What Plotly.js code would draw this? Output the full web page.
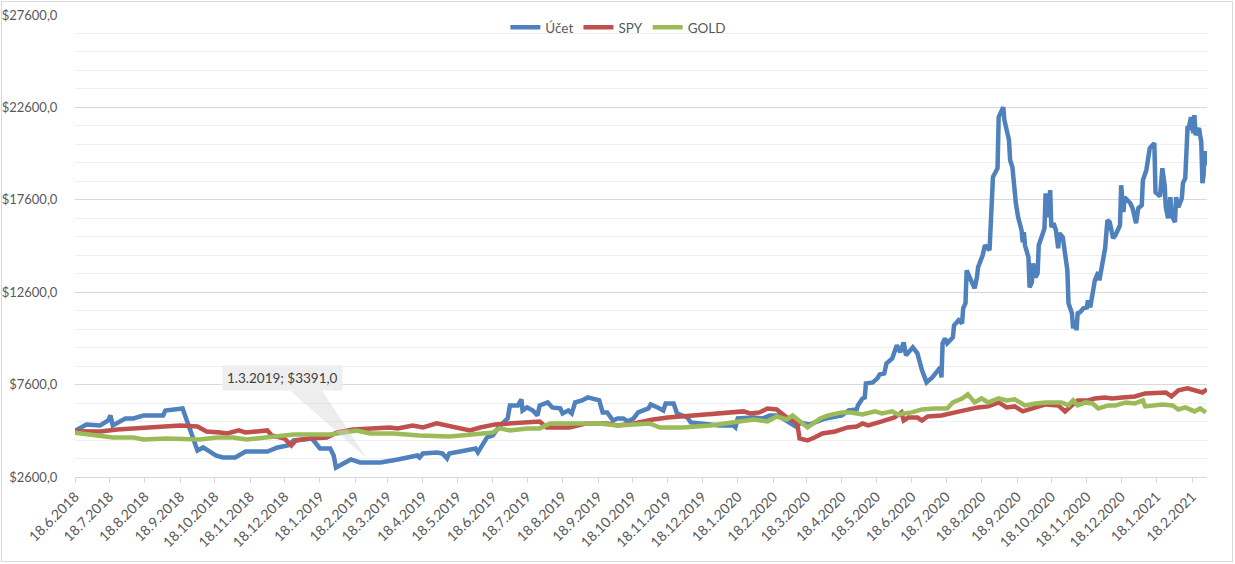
<!DOCTYPE html>
<html><head><meta charset="utf-8">
<script src="https://cdn.plot.ly/plotly-3.0.1.min.js"></script>
<style>
html,body{margin:0;padding:0;background:#fff;}
#chart{width:1235px;height:564px;}
#frame{position:absolute;left:1px;top:1px;width:1230px;height:559px;border:1px solid #d9d9d9;pointer-events:none;}
</style>
</head><body>
<div id="chart"></div><div id="frame"></div>
<script>
const seriesNames = ['Účet', 'SPY', 'GOLD'];
const seriesColors = ['#4F81BD', '#C0504D', '#9BBB59'];

const uctDates = [
'2018-06-18','2018-06-28','2018-07-10','2018-07-17','2018-07-19','2018-07-21','2018-08-01','2018-08-08','2018-08-17','2018-09-03','2018-09-05','2018-09-20',
'2018-10-03','2018-10-08','2018-10-19','2018-10-25','2018-11-05','2018-11-14','2018-12-03','2018-12-12','2018-12-21','2018-12-26',
'2019-01-11','2019-01-18','2019-01-27','2019-01-30','2019-02-01','2019-02-14','2019-02-22','2019-03-01','2019-03-12','2019-03-27',
'2019-04-13','2019-04-15','2019-04-18','2019-04-30','2019-05-05','2019-05-09','2019-05-11','2019-06-03','2019-06-05','2019-06-13','2019-06-18','2019-06-23',
'2019-07-01','2019-07-03','2019-07-10','2019-07-13','2019-07-14','2019-07-18','2019-07-23','2019-07-27','2019-07-29',
'2019-08-05','2019-08-09','2019-08-16','2019-08-18','2019-08-23','2019-08-26','2019-08-29','2019-09-04','2019-09-09','2019-09-19','2019-09-22','2019-09-26',
'2019-10-01','2019-10-05','2019-10-10','2019-10-14','2019-10-19','2019-10-23','2019-11-01','2019-11-03','2019-11-09','2019-11-14','2019-11-16','2019-11-23','2019-11-26',
'2019-12-05','2019-12-08','2019-12-16','2020-01-02','2020-01-14','2020-01-16','2020-01-18','2020-02-01','2020-02-09','2020-02-15','2020-02-22',
'2020-03-04','2020-03-10','2020-03-12','2020-03-21','2020-03-30','2020-04-04','2020-04-18','2020-04-24',
'2020-05-01','2020-05-02','2020-05-06','2020-05-08','2020-05-09','2020-05-15','2020-05-19','2020-05-21','2020-05-25','2020-05-27',
'2020-06-01','2020-06-05','2020-06-08','2020-06-11','2020-06-13','2020-06-19','2020-06-23','2020-06-27',
'2020-07-01','2020-07-06','2020-07-13','2020-07-14','2020-07-15','2020-07-17','2020-07-19','2020-07-24','2020-07-25','2020-07-29',
'2020-08-01','2020-08-02','2020-08-04','2020-08-05','2020-08-10','2020-08-12','2020-08-14','2020-08-15','2020-08-19','2020-08-21','2020-08-25','2020-08-28',
'2020-09-01','2020-09-02','2020-09-06','2020-09-07','2020-09-11','2020-09-12','2020-09-14','2020-09-15','2020-09-16','2020-09-17','2020-09-19','2020-09-22','2020-09-23','2020-09-24','2020-09-25','2020-09-28','2020-09-29',
'2020-10-01','2020-10-02','2020-10-04','2020-10-06','2020-10-07','2020-10-10','2020-10-12','2020-10-13','2020-10-15','2020-10-17','2020-10-18','2020-10-20','2020-10-22','2020-10-24','2020-10-25','2020-10-28','2020-10-30',
'2020-11-01','2020-11-02','2020-11-05','2020-11-06','2020-11-08','2020-11-09','2020-11-10','2020-11-12','2020-11-15','2020-11-18','2020-11-19','2020-11-21','2020-11-23','2020-11-25','2020-11-28','2020-11-29',
'2020-12-01','2020-12-02','2020-12-04','2020-12-06','2020-12-08','2020-12-11','2020-12-13','2020-12-17','2020-12-18','2020-12-20','2020-12-21','2020-12-26','2020-12-28','2020-12-31',
'2021-01-02','2021-01-05','2021-01-06','2021-01-09','2021-01-12','2021-01-16','2021-01-17','2021-01-21','2021-01-23','2021-01-25','2021-01-26','2021-01-28','2021-01-30','2021-01-31',
'2021-02-03','2021-02-04','2021-02-06','2021-02-09','2021-02-10','2021-02-12','2021-02-13','2021-02-14','2021-02-15','2021-02-17','2021-02-19','2021-02-20','2021-02-21','2021-02-24','2021-02-26','2021-02-27','2021-02-28',
'2021-03-01','2021-03-02','2021-03-03'
];
const uctValues = [
5100,5445,5390,5660,5930,5390,5770,5770,5930,5930,6200,6310,
4035,4200,3765,3655,3655,3980,3980,4200,4305,4575,
4685,4145,4145,3765,3115,3550,3385,3391,3385,3550,
3765,3655,3875,3930,3875,3600,3875,4145,3930,4740,4850,5280,
5770,6475,6475,6800,6200,6365,6200,5930,6475,
6635,6365,6310,6040,6200,6040,6635,6745,6905,6745,6095,6095,
5660,5770,5770,5605,5770,6095,6310,6525,6365,6200,6580,6580,6040,
5820,5550,5500,5390,5390,5280,5770,5820,5770,5930,5930,
5500,5280,5550,5445,5660,5770,5930,6200,
6255,6475,6850,6905,7665,7720,7935,8150,8205,8750,
9020,9725,9345,9885,9180,9615,9290,8370,
7720,7990,8530,7990,9830,10100,9830,10155,10805,11080,
10915,11730,12000,13785,13080,12810,13410,13950,14600,15140,14870,18830,
19310,22070,22615,21910,20830,19745,19365,18500,18120,17415,16655,15950,15300,15840,15140,14490,12865,
13135,14165,13405,13625,15140,15680,16060,17955,16655,18120,16115,16330,15950,14980,15790,15570,14710,
13785,12000,11460,10645,11080,10535,11460,11510,11730,11780,12160,11780,12595,13245,13680,13245,
13950,14330,14980,16495,16385,15520,15680,16225,18390,16930,17740,17415,17145,16330,
17145,17305,18660,19205,20395,20665,18010,17795,19310,18390,17200,16600,17740,16765,
16385,17740,17200,17685,18500,18770,20180,21480,21480,22070,21205,22180,21100,21480,20720,18500,18930,
20125,20125,19475
];

const spyDates = [
'2018-06-18','2018-07-10','2018-07-25','2018-08-08','2018-08-29','2018-09-18','2018-10-03','2018-10-11','2018-10-23','2018-10-29','2018-11-08','2018-11-14',
'2018-12-03','2018-12-07','2018-12-18','2018-12-24','2018-12-28','2019-01-09','2019-01-24','2019-02-02','2019-02-16','2019-03-03','2019-03-20','2019-03-27',
'2019-04-09','2019-04-18','2019-04-30','2019-05-29','2019-06-07','2019-06-20','2019-07-06','2019-07-23','2019-07-29','2019-08-04','2019-08-13','2019-08-24',
'2019-09-08','2019-09-26','2019-10-05','2019-10-19','2019-11-05','2019-11-18','2019-12-10','2019-12-22','2020-01-14','2020-01-23','2020-01-29',
'2020-02-06','2020-02-13','2020-02-21','2020-03-01','2020-03-10','2020-03-12','2020-03-19','2020-03-25','2020-04-01','2020-04-12','2020-04-23',
'2020-05-01','2020-05-06','2020-05-11','2020-05-19','2020-05-23','2020-06-03','2020-06-09','2020-06-11','2020-06-15','2020-06-23','2020-06-27',
'2020-07-02','2020-07-14','2020-07-26','2020-08-06','2020-08-15','2020-08-24','2020-09-02','2020-09-09','2020-09-16','2020-09-23',
'2020-10-01','2020-10-13','2020-10-24','2020-10-30','2020-11-05','2020-11-10','2020-11-19','2020-11-25','2020-12-04','2020-12-10','2020-12-19','2020-12-30',
'2021-01-08','2021-01-17','2021-01-26','2021-01-31','2021-02-06','2021-02-14','2021-02-23','2021-02-27','2021-03-03'
];
const spyValues = [
5080,5065,5175,5230,5280,5390,5335,5065,5010,4955,5120,5010,
5120,4850,4685,4305,4575,4685,4740,5010,5175,5230,5280,5230,
5390,5280,5500,5120,5280,5445,5500,5550,5605,5280,5280,5280,
5500,5500,5390,5500,5715,5820,5930,5985,6095,6150,6040,
6095,6310,6255,5820,5500,4685,4575,4740,4955,5065,5280,
5335,5500,5390,5500,5605,5820,6095,5660,5820,5820,5660,
5875,5930,6095,6255,6365,6420,6635,6365,6420,6150,
6310,6525,6475,6150,6475,6745,6745,6850,6905,6850,6905,6960,
7125,7125,7175,6960,7285,7395,7285,7175,7340
];

const goldDates = [
'2018-06-18','2018-07-04','2018-07-21','2018-08-08','2018-08-17','2018-09-06','2018-10-05','2018-10-20','2018-11-03','2018-11-15','2018-12-03','2018-12-21','2018-12-26',
'2019-01-27','2019-02-07','2019-02-19','2019-03-03','2019-03-23','2019-04-15','2019-05-11','2019-05-31','2019-06-18','2019-06-24','2019-07-03','2019-07-18','2019-07-29',
'2019-08-07','2019-08-24','2019-09-19','2019-10-05','2019-10-19','2019-11-02','2019-11-11','2019-12-01','2019-12-25','2020-01-14','2020-02-01','2020-02-13','2020-02-21',
'2020-03-01','2020-03-06','2020-03-19','2020-03-30','2020-04-06','2020-04-18','2020-04-26','2020-05-06','2020-05-17','2020-05-23','2020-06-01','2020-06-06','2020-06-18','2020-06-27',
'2020-07-08','2020-07-19','2020-07-24','2020-08-01','2020-08-06','2020-08-12','2020-08-18','2020-08-24','2020-09-02','2020-09-09','2020-09-16','2020-09-25',
'2020-10-04','2020-10-13','2020-10-27','2020-11-02','2020-11-06','2020-11-10','2020-11-17','2020-11-23','2020-11-28','2020-12-07','2020-12-13','2020-12-22','2020-12-30',
'2021-01-06','2021-01-08','2021-01-23','2021-02-01','2021-02-06','2021-02-12','2021-02-20','2021-02-25','2021-03-02'
];
const goldValues = [
5000,4850,4740,4740,4630,4685,4630,4740,4740,4630,4740,4850,4900,
4900,5010,5120,4955,4955,4850,4795,4900,5010,5230,5120,5230,5230,
5500,5500,5500,5390,5445,5500,5280,5280,5390,5550,5715,5605,5875,
5715,5930,5280,5770,5930,6095,6095,5985,6150,6040,6150,5985,6095,6255,
6310,6310,6635,6850,7070,6635,6850,6635,6850,6745,6800,6475,
6580,6635,6635,6475,6745,6475,6635,6580,6310,6475,6475,6635,6580,
6745,6420,6525,6475,6255,6365,6150,6310,6095
];

const calloutDate = '2019-03-01';
const calloutValue = 3391;
const calloutText = '1.3.2019; $3391,0';

const dates = [uctDates, spyDates, goldDates];
const values = [uctValues, spyValues, goldValues];

const traces = seriesNames.map((name, i) => ({
  type: 'scatter', mode: 'lines', name: name,
  x: dates[i], y: values[i],
  line: {color: seriesColors[i], width: 4.5, shape: 'linear'},
  hoverinfo: 'skip'
}));

const fontFam = 'Lato, "Noto Sans", sans-serif';

const layout = {
  width: 1235, height: 564,
  margin: {l: 75, r: 28, t: 13, b: 87, pad: 0},
  paper_bgcolor: '#ffffff', plot_bgcolor: '#ffffff',
  separators: ', ',
  font: {family: fontFam, color: '#595959', size: 13},
  showlegend: true,
  legend: {
    orientation: 'h', x: 0.48, xanchor: 'center', y: 0.973, yanchor: 'middle',
    font: {family: fontFam, size: 13.5, color: '#595959'},
    bgcolor: 'rgba(0,0,0,0)', itemwidth: 30, tracegroupgap: 0
  },
  xaxis: {
    type: 'date',
    range: ['2018-06-18', '2021-03-03'],
    tick0: '2018-06-18', dtick: 'M1',
    tickformat: '%-d.%-m.%Y',
    tickangle: -45,
    ticks: 'outside', ticklen: 5, tickcolor: '#d9d9d9', tickwidth: 1,
    showline: true, linecolor: '#d9d9d9', linewidth: 1,
    showgrid: false, zeroline: false,
    tickfont: {family: fontFam, size: 14, color: '#595959'},
    fixedrange: true
  },
  yaxis: {
    range: [2600, 27600],
    tick0: 2600, dtick: 5000,
    tickformat: '$.1f',
    showgrid: true, gridcolor: '#d9d9d9', gridwidth: 1,
    minor: {tick0: 2600, dtick: 1000, showgrid: true, gridcolor: '#efefef', gridwidth: 1, ticks: ''},
    zeroline: false, showline: false,
    ticks: 'outside', ticklen: 14, tickcolor: 'rgba(0,0,0,0)',
    tickfont: {family: fontFam, size: 13, color: '#595959'},
    fixedrange: true
  },
  shapes: [{
    type: 'path', xref: 'x', yref: 'y',
    xsizemode: 'pixel', ysizemode: 'pixel',
    xanchor: calloutDate, yanchor: calloutValue,
    path: 'M -78,72 L -46,72 L -1,4 Z',
    fillcolor: 'rgba(210,210,210,0.4)', line: {width: 0},
    layer: 'above'
  }],
  annotations: [{
    x: calloutDate, y: calloutValue, xref: 'x', yref: 'y',
    text: calloutText, showarrow: false,
    xshift: -86, yshift: 84,
    bgcolor: '#eeeeee', borderpad: 4,
    font: {family: fontFam, size: 13.5, color: '#404040'}
  }]
};

Plotly.newPlot('chart', traces, layout, {displayModeBar: false, staticPlot: true});
</script>
</body></html>
